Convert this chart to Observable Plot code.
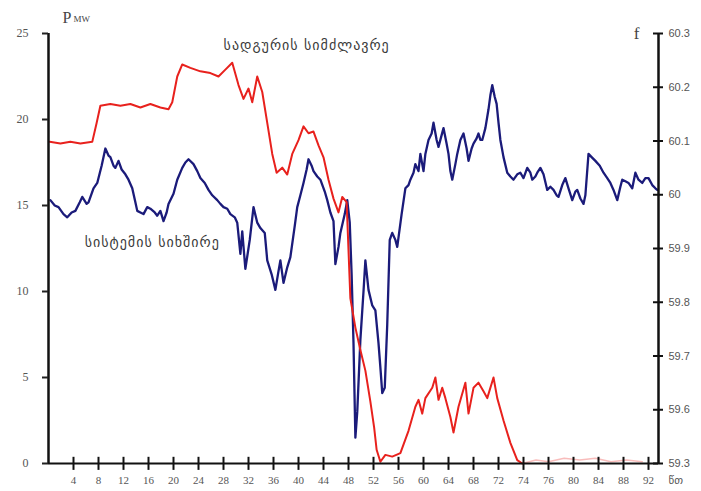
<!DOCTYPE html>
<html><head><meta charset="utf-8">
<script src="https://cdn.jsdelivr.net/npm/d3@7"></script>
<script src="https://cdn.jsdelivr.net/npm/@observablehq/plot@0.6"></script>
<style>html,body{margin:0;padding:0;background:#fff;}</style>
</head><body><div id="chart"></div>
<script>
// x positions are axis positions: tick k sits at 4k (labels as printed on the original)
const xTickPos = [4,8,12,16,20,24,28,32,36,40,44,48,52,56,60,64,68,72,76,80,84,88,92,96];
const xTickLabels = ["4","8","12","16","20","24","28","32","36","40","44","48","52","56","60","64","68","72","74","76","80","84","88","92"];
const xMax = 97.6;
const pTicks = [0,5,10,15,20,25];
// right axis: evenly spaced ticks; bottom tick is printed "59.3"
const fTickValues = [59.5,59.6,59.7,59.8,59.9,60.0,60.1,60.2,60.3];
const fTickLabels = ["59.3","59.6","59.7","59.8","59.9","60","60.1","60.2","60.3"];

// plant power, MW  [t, P]
const power = [[0.2,18.7],[1.9,18.6],[3.5,18.7],[5.1,18.6],[7.0,18.7],[7.7,19.8],[8.3,20.8],[9.9,20.9],[11.5,20.8],[13.1,20.9],[14.7,20.7],[16.3,20.9],[17.9,20.7],[19.2,20.6],[19.8,21.0],[20.6,22.5],[21.4,23.2],[22.7,23.0],[24.3,22.8],[25.9,22.7],[27.2,22.5],[28.3,22.9],[29.4,23.3],[30.4,22.0],[31.2,21.2],[32.0,21.8],[32.6,21.0],[33.4,22.5],[34.2,21.6],[35.0,19.8],[35.8,18.0],[36.5,16.9],[37.4,17.2],[38.2,16.8],[39.0,18.0],[40.0,18.8],[40.8,19.6],[41.6,19.2],[42.4,19.3],[43.2,18.5],[44.0,17.8],[44.8,16.5],[45.6,15.4],[46.4,14.6],[47.0,15.5],[47.7,15.2],[48.3,9.6],[49.1,7.9],[49.9,6.6],[50.7,5.4],[51.5,3.6],[52.1,2.1],[52.5,0.8],[53.1,0.1],[53.9,0.5],[55.0,0.4],[56.3,0.6],[57.6,1.9],[58.7,3.3],[59.2,3.7],[59.8,2.9],[60.3,3.8],[61.4,4.4],[61.9,5.0],[62.4,3.7],[63.0,4.4],[63.5,3.8],[64.3,2.7],[64.8,1.8],[65.6,3.3],[66.7,4.7],[67.2,2.9],[68.0,4.4],[68.8,4.7],[69.6,4.2],[70.2,3.8],[71.2,5.0],[71.8,3.8],[72.8,2.5],[73.9,1.2],[75.0,0.2],[75.8,0.0]];
const powerTail = [[75.8,0.0],[78.0,0.2],[80.0,0.1],[82.5,0.3],[85.0,0.2],[87.5,0.3],[90.0,0.1],[92.5,0.2],[95.0,0.1]];

// system frequency, Hz  [t, f]
const frequency = [[0.3,59.990],[1.0,59.980],[1.6,59.977],[2.4,59.964],[3.0,59.958],[3.7,59.967],[4.3,59.970],[5.0,59.986],[5.4,59.996],[6.1,59.983],[6.4,59.986],[7.2,60.012],[7.8,60.022],[8.5,60.054],[9.1,60.086],[9.6,60.073],[9.9,60.070],[10.4,60.054],[10.7,60.050],[11.2,60.063],[11.7,60.047],[12.3,60.038],[12.8,60.028],[13.4,60.012],[13.9,59.986],[14.2,59.970],[14.7,59.967],[15.2,59.964],[15.8,59.977],[16.3,59.974],[17.0,59.967],[17.4,59.961],[17.9,59.970],[18.4,59.951],[18.9,59.967],[19.2,59.983],[20.0,60.002],[20.6,60.028],[21.4,60.050],[21.9,60.060],[22.4,60.066],[23.2,60.057],[23.8,60.044],[24.3,60.031],[25.0,60.022],[25.6,60.009],[26.2,59.999],[27.0,59.990],[27.5,59.983],[28.0,59.977],[28.6,59.974],[29.1,59.964],[29.8,59.958],[30.2,59.948],[30.7,59.890],[31.0,59.932],[31.5,59.862],[32.2,59.916],[32.8,59.977],[33.4,59.948],[33.9,59.938],[34.6,59.929],[35.0,59.878],[35.7,59.852],[36.3,59.823],[36.8,59.858],[37.1,59.878],[37.6,59.836],[38.2,59.865],[38.7,59.884],[39.4,59.942],[39.8,59.977],[40.3,59.999],[40.8,60.022],[41.3,60.047],[41.6,60.066],[42.1,60.054],[42.4,60.044],[43.0,60.034],[43.5,60.028],[44.2,60.006],[44.6,59.990],[45.1,59.967],[45.6,59.951],[45.9,59.871],[46.4,59.903],[46.7,59.929],[47.4,59.964],[47.8,59.990],[48.2,59.948],[48.5,59.852],[48.8,59.724],[49.1,59.548],[49.4,59.596],[49.9,59.730],[50.4,59.820],[50.7,59.878],[51.2,59.823],[51.8,59.794],[52.3,59.785],[52.8,59.724],[53.1,59.679],[53.4,59.631],[53.8,59.641],[54.2,59.759],[54.6,59.916],[55.0,59.929],[55.5,59.916],[55.8,59.903],[56.5,59.964],[57.1,60.012],[57.6,60.018],[57.9,60.028],[58.4,60.041],[58.7,60.057],[59.2,60.044],[59.5,60.076],[60.0,60.044],[60.3,60.076],[60.8,60.102],[61.3,60.114],[61.6,60.134],[62.1,60.102],[62.4,60.089],[62.9,60.111],[63.2,60.124],[63.7,60.095],[64.0,60.076],[64.3,60.044],[64.6,60.028],[65.1,60.057],[65.4,60.076],[65.9,60.102],[66.4,60.114],[66.9,60.086],[67.2,60.063],[67.7,60.086],[68.0,60.095],[68.5,60.105],[68.8,60.114],[69.1,60.102],[69.4,60.102],[69.9,60.124],[70.4,60.159],[70.7,60.185],[71.0,60.204],[71.4,60.182],[71.7,60.169],[72.0,60.134],[72.3,60.102],[72.8,60.070],[73.4,60.041],[73.9,60.034],[74.4,60.028],[75.0,60.038],[75.5,60.041],[76.0,60.031],[76.6,60.050],[77.1,60.041],[77.4,60.028],[77.9,60.034],[78.2,60.041],[78.7,60.050],[79.2,60.038],[79.8,60.009],[80.3,60.015],[80.8,60.009],[81.3,59.999],[81.6,59.996],[82.2,60.018],[82.7,60.031],[83.2,60.012],[83.8,59.990],[84.3,60.006],[84.6,60.009],[85.1,59.993],[85.6,59.983],[85.9,59.999],[86.4,60.076],[86.9,60.070],[87.5,60.063],[88.2,60.054],[88.8,60.041],[89.4,60.031],[89.9,60.022],[90.4,60.009],[91.0,59.990],[91.5,60.015],[91.8,60.028],[92.3,60.025],[92.8,60.022],[93.4,60.012],[93.9,60.041],[94.4,60.028],[95.0,60.022],[95.5,60.031],[96.0,60.031],[96.6,60.018],[97.1,60.012],[97.4,60.009]];

const notes = [
  {t: 41.3, p: 24.3, label: "სადგურის სიმძლავრე"},
  {t: 16.6, p: 12.85, label: "სისტემის სიხშირე"}
];

// map frequency (right axis) onto the power scale (left axis)
const fMin = 59.5, fMax = 60.3, pMax = 25;
const fToP = f => (f - fMin) / (fMax - fMin) * pMax;
const fTickPos = fTickValues.map(fToP);

const W = 701, H = 491, mL = 48, mR = 43, mT = 33, mB = 28;

const chart = Plot.plot({
  width: W, height: H,
  marginLeft: mL, marginRight: mR, marginTop: mT, marginBottom: mB,
  x: {domain: [0, xMax]},
  y: {domain: [0, pMax]},
  style: {background: "#fff", fontFamily: "Liberation Serif", color: "#222"},
  marks: [
    Plot.line(powerTail, {x: d => d[0], y: d => d[1], stroke: "#e8211d", strokeOpacity: 0.3, strokeWidth: 1.5}),
    Plot.line(frequency, {x: d => d[0], y: d => fToP(d[1]), stroke: "#1b1b7a", strokeWidth: 2.3, strokeLinejoin: "round"}),
    Plot.line(power, {x: d => d[0], y: d => d[1], stroke: "#e8211d", strokeWidth: 2, strokeLinejoin: "round"}),
    Plot.ruleX([0], {stroke: "#111", strokeWidth: 2.5}),
    Plot.ruleX([xMax], {stroke: "#111", strokeWidth: 2.5}),
    Plot.ruleY([0], {stroke: "#111", strokeWidth: 2}),
    // x ticks crossing the axis line (half-length ~6px expressed in MW)
    Plot.ruleX(xTickPos, {x: d => d, y1: -0.4, y2: 0.36, stroke: "#111", strokeWidth: 2}),
    Plot.axisX({ticks: xTickPos, anchor: "bottom", tickSize: 0, tickPadding: 13,
      tickFormat: d => xTickLabels[xTickPos.indexOf(d)], fontSize: 11, fill: "#555", label: null}),
    Plot.axisY({ticks: pTicks, anchor: "left", tickSize: 6, tickPadding: 14, strokeWidth: 2,
      tickFormat: d => String(d), fontSize: 12, fill: "#555", label: null}),
    // right ticks crossing the axis line
    Plot.ruleY(fTickPos, {y: d => d, x1: xMax - 0.8, x2: xMax + 0.8, stroke: "#111", strokeWidth: 2}),
    Plot.axisY({ticks: fTickPos, anchor: "right", tickSize: 0, tickPadding: 10,
      tickFormat: d => fTickLabels[fTickPos.indexOf(d)], fontSize: 11, fontFamily: "Liberation Sans", fill: "#555", label: null}),
    Plot.text(notes, {x: "t", y: "p", text: "label", fontFamily: "DejaVu Sans", fontSize: 14, fill: "#3a3a3a"}),
    Plot.text(["P"], {frameAnchor: "top-left", dx: 14, dy: -11, textAnchor: "start", lineAnchor: "bottom", fontSize: 16, fill: "#444"}),
    Plot.text(["MW"], {frameAnchor: "top-left", dx: 25, dy: -12, textAnchor: "start", lineAnchor: "bottom", fontSize: 9, fill: "#444"}),
    Plot.text(["f"], {frameAnchor: "top-right", dx: -22, dy: 5, textAnchor: "middle", lineAnchor: "bottom", fontSize: 17, fill: "#444"}),
    Plot.text(["წთ"], {frameAnchor: "bottom-right", dx: 10, dy: 20, textAnchor: "start", fontFamily: "DejaVu Sans", fontSize: 11, fill: "#555"})
  ]
});
// widen the Georgian annotations a little, as in the original
const noteLabels = notes.map(n => n.label);
d3.select(chart).selectAll("text")
  .filter(function() { return noteLabels.includes(this.textContent); })
  .style("letter-spacing", "1px");
document.getElementById("chart").append(chart);
</script>
</body></html>
